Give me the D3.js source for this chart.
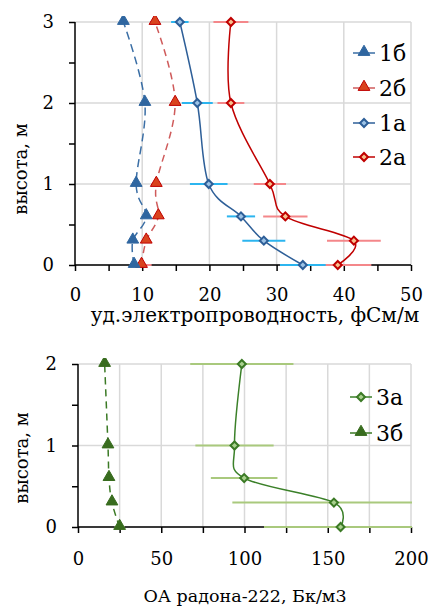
<!DOCTYPE html>
<html>
<head>
<meta charset="utf-8">
<script src="https://cdn.jsdelivr.net/npm/d3@7"></script>
<style>
  html, body { margin: 0; padding: 0; background: #fff; }
</style>
</head>
<body>
<svg id="chart" width="429" height="610"></svg>
<script>
// ---------- DATA ----------
// Top chart: heights (m) and specific conductivity (fSm/m)
const heightsTop = [0, 0.3, 0.6, 1, 2, 3];
const cond1b = [8.8, 8.6, 10.6, 9.1, 10.4, 7.2];
const cond1bErr = [0.6, 0.5, 0.5, 0.6, 0.6, 0.5];
const cond2b = [9.9, 10.6, 12.4, 12.1, 14.9, 11.9];
const cond2bErr = [1.5, 0.6, 0.6, 0.7, 0.6, 0.7];
const cond1a = [33.9, 28.1, 24.7, 19.9, 18.2, 15.6];
const cond1aErr = [3.4, 3.2, 2.1, 2.8, 2.3, 1.3];
const cond2a = [39.1, 41.5, 31.3, 29.0, 23.2, 23.2];
const cond2aErr = [5.0, 4.0, 3.3, 2.4, 2.0, 2.6];
const topXTicks = [0, 10, 20, 30, 40, 50];
const topYTicks = [0, 1, 2, 3];

// Bottom chart: heights (m) and radon-222 volume activity (Bq/m3)
const heightsBottom = [0, 0.3, 0.6, 1, 2];
const radon3a = [157.7, 153.7, 99.8, 94.0, 98.4];
const radon3aErr = [46, 61, 20, 23.5, 31];
const radon3b = [25.0, 20.4, 18.6, 18.0, 16.0];
const radon3bErr = [3, 2.5, 2, 2, 2];
const bottomXTicks = [0, 50, 100, 150, 200];
const bottomYTicks = [0, 1, 2];

// ---------- DRAW ----------
const svg = d3.select("#chart");
const gridColor = "#d9d9d9";
const FONT = "DejaVu Serif";

function halfSteps(max) { return d3.range(0, max + 0.001, 0.5); }

function panel(opts) {
  const x = d3.scaleLinear().domain(opts.xDomain).range(opts.xRange);
  const y = d3.scaleLinear().domain(opts.yDomain).range(opts.yRange);
  const g = svg.append("g");
  const clipId = opts.id + "-clip";
  svg.append("clipPath").attr("id", clipId)
    .append("rect")
    .attr("x", opts.xRange[0]).attr("y", opts.yRange[1] - 6)
    .attr("width", opts.xRange[1] - opts.xRange[0] + 1)
    .attr("height", opts.yRange[0] - opts.yRange[1] + 12);

  g.append("g").selectAll("line").data(opts.xGrid).join("line")
    .attr("x1", d => x(d)).attr("x2", d => x(d))
    .attr("y1", y.range()[0]).attr("y2", y.range()[1])
    .attr("stroke", gridColor).attr("stroke-width", 1.5);
  g.append("g").selectAll("line").data(opts.yTicks).join("line")
    .attr("x1", x.range()[0]).attr("x2", x.range()[1])
    .attr("y1", d => y(d)).attr("y2", d => y(d))
    .attr("stroke", gridColor).attr("stroke-width", 1.5);

  const xAxis = d3.axisBottom(x).tickValues(opts.xTickMarks).tickSize(6).tickPadding(opts.xPad)
    .tickFormat(d => opts.xTicks.includes(d) ? d : "");
  const gx = g.append("g").attr("transform", `translate(0,${y.range()[0]})`).call(xAxis)
    .attr("font-family", FONT).attr("font-size", 18);
  gx.select(".domain").attr("stroke", "#000").attr("stroke-width", 1.5).attr("d", `M${x.range()[0]},0H${x.range()[1]}`);
  gx.selectAll(".tick line").attr("stroke", "#000").attr("stroke-width", 1.5);

  const yAxis = d3.axisLeft(y).tickValues(halfSteps(opts.yDomain[1])).tickSize(6).tickPadding(opts.yPad)
    .tickFormat(d => opts.yTicks.includes(d) ? d : "");
  const gy = g.append("g").attr("transform", `translate(${x.range()[0]},0)`).call(yAxis)
    .attr("font-family", FONT).attr("font-size", 18);
  gy.select(".domain").attr("stroke", "#000").attr("stroke-width", 1.5).attr("d", `M0,${y.range()[0]}V${y.range()[1]}`);
  gy.selectAll(".tick line").attr("stroke", "#000").attr("stroke-width", 1.5);

  g.append("text").attr("x", opts.xTitlePos[0]).attr("y", opts.xTitlePos[1])
    .attr("text-anchor", "middle").attr("font-family", FONT).attr("font-size", opts.xTitleSize).text(opts.xTitle);
  g.append("text").attr("transform", `translate(${opts.yTitlePos[0]},${opts.yTitlePos[1]}) rotate(-90)`)
    .attr("text-anchor", "middle").attr("font-family", FONT).attr("font-size", 18).text(opts.yTitle);

  const plot = g.append("g").attr("clip-path", `url(#${clipId})`);

  opts.series.forEach(s => {
    const pts = s.values.map((v, i) => ({ v, h: opts.heights[i], e: s.err[i] }));
    plot.append("g").selectAll("line").data(pts).join("line")
      .attr("x1", d => x(d.v - d.e)).attr("x2", d => x(d.v + d.e))
      .attr("y1", d => y(d.h)).attr("y2", d => y(d.h))
      .attr("stroke", s.errColor).attr("stroke-width", 2);
  });
  opts.series.forEach(s => {
    const pts = s.values.map((v, i) => ({ v, h: opts.heights[i] }));
    const line = d3.line().x(d => x(d.v)).y(d => y(d.h)).curve(d3.curveCardinal.tension(0));
    plot.append("path").datum(pts).attr("d", line)
      .attr("fill", "none").attr("stroke", s.color).attr("stroke-width", 1.5)
      .attr("stroke-dasharray", s.dash || null);
  });
  const symFor = s => d3.symbol().type(s.marker === "tri" ? d3.symbolTriangle : d3.symbolSquare)
      .size(s.marker === "tri" ? 60 : 32);
  const tf = s => (s.marker === "tri" ? " translate(0,-1)" : " rotate(45)");
  opts.series.forEach(s => {
    const pts = s.values.map((v, i) => ({ v, h: opts.heights[i] }));
    plot.append("g").selectAll("path").data(pts).join("path")
      .attr("d", symFor(s))
      .attr("transform", d => `translate(${x(d.v)},${y(d.h)})` + tf(s))
      .attr("fill", s.fill).attr("stroke", s.stroke).attr("stroke-width", s.marker === "tri" ? 1 : 2);
  });

  opts.series.slice().sort((a, b) => a.legendOrder - b.legendOrder).forEach((s, i) => {
    const ly = opts.legendY[i];
    const lg = g.append("g");
    lg.append("line").attr("x1", opts.legendX).attr("x2", opts.legendX + 22)
      .attr("y1", ly).attr("y2", ly).attr("stroke", s.color).attr("stroke-width", 1.5);
    lg.append("path").attr("d", symFor(s))
      .attr("transform", `translate(${opts.legendX + 11},${ly})` + tf(s))
      .attr("fill", s.fill).attr("stroke", s.stroke).attr("stroke-width", s.marker === "tri" ? 1 : 2);
    lg.append("text").attr("x", opts.legendX + 26).attr("y", ly).attr("dy", "0.36em")
      .attr("font-family", FONT).attr("font-size", 22).text(s.name);
  });
}

panel({
  id: "top",
  xDomain: [0, 50], xRange: [75, 411],
  yDomain: [0, 3], yRange: [265, 22],
  heights: heightsTop,
  xTicks: topXTicks, xTickMarks: d3.range(0, 51, 5), xGrid: topXTicks.slice(1),
  yTicks: topYTicks,
  xPad: 17, yPad: 15,
  xTitle: "уд.электропроводность, фСм/м", xTitlePos: [255, 322], xTitleSize: 20,
  yTitle: "высота, м", yTitlePos: [27, 169],
  legendX: 353, legendY: [53, 88, 123, 157],
  series: [
    { name: "2а", values: cond2a, err: cond2aErr, color: "#c00000", errColor: "#f4878a", marker: "dia", fill: "#f8c08f", stroke: "#c00000", legendOrder: 4 },
    { name: "1а", values: cond1a, err: cond1aErr, color: "#2e5f98", errColor: "#2cb5ef", marker: "dia", fill: "#9dc3e6", stroke: "#2e5f98", legendOrder: 3 },
    { name: "2б", values: cond2b, err: cond2bErr, color: "#cf5b5b", errColor: "#f4878a", marker: "tri", fill: "#d9431e", stroke: "#c00000", dash: "7,5", legendOrder: 2 },
    { name: "1б", values: cond1b, err: cond1bErr, color: "#3a6ea5", errColor: "#2cb5ef", marker: "tri", fill: "#2f66a0", stroke: "#2f66a0", dash: "8,5", legendOrder: 1 }
  ]
});

panel({
  id: "bottom",
  xDomain: [0, 200], xRange: [78, 411],
  yDomain: [0, 2], yRange: [527, 364],
  heights: heightsBottom,
  xTicks: bottomXTicks, xTickMarks: d3.range(0, 201, 25), xGrid: d3.range(25, 201, 25),
  yTicks: bottomYTicks,
  xPad: 19, yPad: 15,
  xTitle: "ОА радона-222, Бк/м3", xTitlePos: [245, 602], xTitleSize: 17.5,
  yTitle: "высота, м", yTitlePos: [28, 458],
  legendX: 350, legendY: [397, 433],
  series: [
    { name: "3а", values: radon3a, err: radon3aErr, color: "#3b8029", errColor: "#a9c97d", marker: "dia", fill: "#a9d18e", stroke: "#3b7a25", legendOrder: 1 },
    { name: "3б", values: radon3b, err: radon3bErr, color: "#3b7a25", errColor: "#a9c97d", marker: "tri", fill: "#386c1e", stroke: "#386c1e", dash: "7,5", legendOrder: 2 }
  ]
});
</script>
</body>
</html>
